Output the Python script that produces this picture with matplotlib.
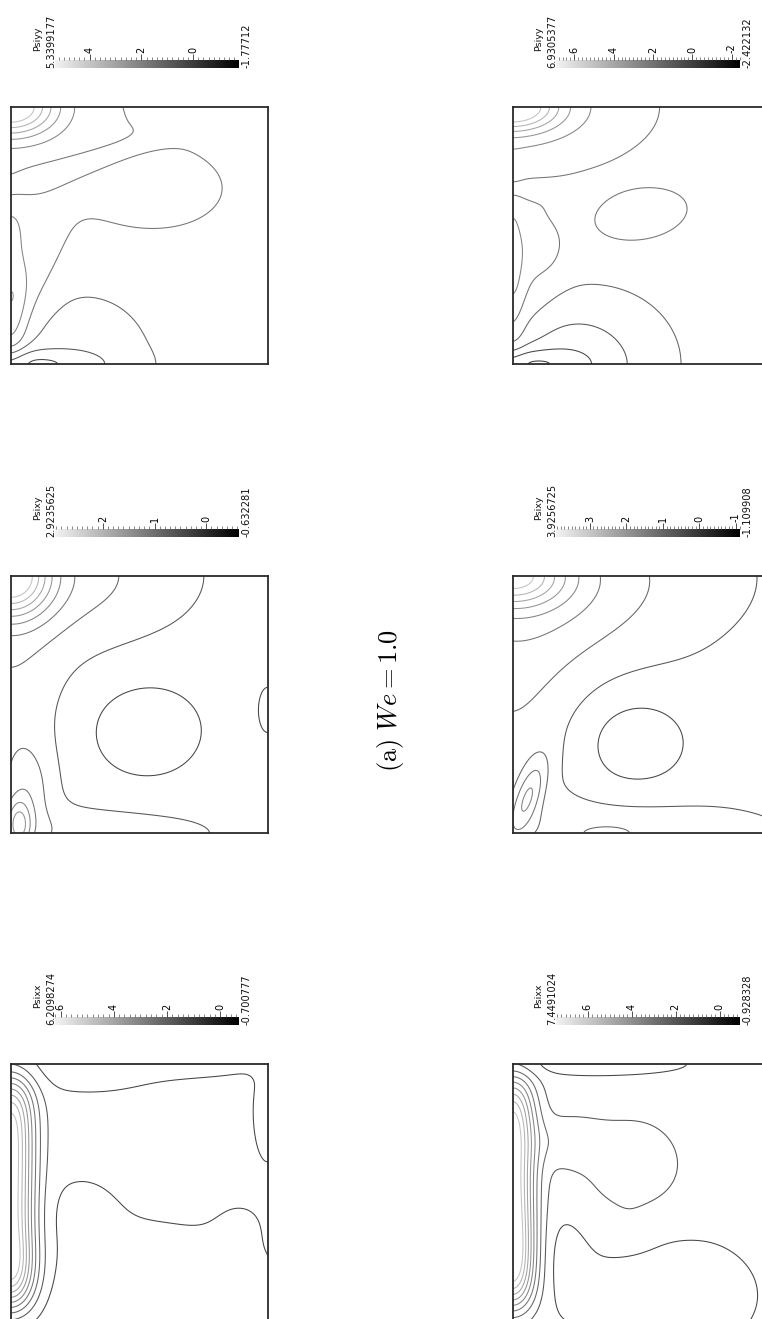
import numpy as np
import matplotlib
matplotlib.use("Agg")
import matplotlib.pyplot as plt
from matplotlib.colors import LinearSegmentedColormap, Normalize
from matplotlib.ticker import MultipleLocator

plt.rcParams["mathtext.fontset"] = "cm"

# ---------------------------------------------------------------------------
# Panel layout: rows = Psiyy, Psixy, Psixx ; columns = two runs
# ---------------------------------------------------------------------------
field_names = ["Psiyy", "Psiyy", "Psixy", "Psixy", "Psixx", "Psixx"]
field_max = [5.3399177, 6.9305377, 2.9235625, 3.9256725, 6.2098274, 7.4491024]
field_min = [-1.77712, -2.422132, -0.632281, -1.109908, -0.700777, -0.928328]
max_text = ["5.3399177", "6.9305377", "2.9235625", "3.9256725", "6.2098274", "7.4491024"]
min_text = ["-1.77712", "-2.422132", "-0.632281", "-1.109908", "-0.700777", "-0.928328"]
tick_step = [2, 2, 1, 1, 2, 2]
n_contours = 10

# Normalised field description (0 = min, 1 = max) on the unit cavity:
# u runs left -> right, w runs top -> bottom of each frame.
# Each term: (amplitude, u0, w0, width_u, width_w, angle_deg, power_u, power_w)
base_yy_1 = 0.41
terms_yy_1 = [
    (0.55, 0.00, 0.00, 0.17, 0.11, 0, 2, 2),
    (0.09, 0.00, 0.00, 0.50, 0.30, 0, 2, 2),
    (0.11, 0.55, 0.32, 0.28, 0.16, 0, 2, 2),
    (0.07, 0.00, 0.45, 0.15, 0.12, 0, 2, 2),
    (0.10, 0.05, 0.72, 0.30, 0.10, 117, 2, 2),
    (0.16, 0.00, 0.72, 0.06, 0.28, 0, 2, 2),
    (-0.10, 0.20, 0.25, 0.35, 0.04, -17, 2, 2),
    (-0.10, 0.28, 1.00, 0.30, 0.30, 0, 2, 2),
    (-0.20, 0.00, 1.00, 0.30, 0.06, 0, 2, 2),
]

base_yy_2 = 0.41
terms_yy_2 = [
    (0.50, 0.00, 0.00, 0.17, 0.09, 0, 2, 2),
    (0.10, 0.00, 0.00, 0.38, 0.17, 0, 2, 2),
    (0.08, 0.00, 0.00, 0.62, 0.33, 0, 2, 2),
    (-0.08, 0.00, 0.32, 0.15, 0.04, 0, 2, 2),
    (0.10, 0.50, 0.43, 0.19, 0.10, -12, 2, 2),
    (0.09, 0.00, 0.60, 0.14, 0.28, 0, 2, 2),
    (0.05, 0.13, 0.56, 0.08, 0.10, 0, 2, 2),
    (0.10, 0.00, 0.65, 0.045, 0.30, 0, 2, 2),
    (-0.10, 0.32, 1.00, 0.36, 0.32, 0, 2, 2),
    (-0.12, 0.20, 1.00, 0.25, 0.20, 0, 2, 2),
    (-0.20, 0.00, 1.00, 0.22, 0.06, 0, 2, 2),
]

base_xy_1 = 0.24
terms_xy_1 = [
    (0.62, 0.00, 0.00, 0.15, 0.15, 0, 2, 2),
    (0.09, 0.22, 0.00, 0.45, 0.22, 0, 2, 2),
    (0.09, 0.00, 0.50, 0.19, 0.60, 0, 2, 2),
    (0.09, 0.32, 1.00, 0.46, 0.10, 0, 2, 2),
    (-0.12, 0.53, 0.60, 0.25, 0.21, 0, 2, 2),
    (-0.12, 1.00, 0.52, 0.04, 0.10, 0, 2, 2),
    (0.10, 0.00, 0.00, 0.50, 0.33, 0, 2, 2),
    (0.30, 0.03, 0.97, 0.05, 0.10, 0, 2, 2),
    (0.12, 0.07, 0.84, 0.09, 0.18, 0, 2, 2),
]

base_xy_2 = 0.24
terms_xy_2 = [
    (0.45, 0.00, 0.00, 0.19, 0.11, 0, 2, 2),
    (0.10, 0.00, 0.00, 0.35, 0.22, 0, 2, 2),
    (0.10, 0.00, 0.10, 0.55, 0.40, 0, 2, 2),
    (0.09, 0.28, 0.00, 0.62, 0.30, 0, 2, 2),
    (0.09, 0.00, 0.55, 0.26, 0.50, 0, 2, 2),
    (0.11, 0.45, 1.00, 0.55, 0.12, 0, 2, 2),
    (-0.12, 0.47, 0.64, 0.24, 0.20, 0, 2, 2),
    (0.25, 0.06, 0.86, 0.05, 0.15, 20, 2, 2),
    (0.05, 0.37, 1.00, 0.08, 0.025, 0, 2, 2),
]

base_xx_1 = 0.22
terms_xx_1 = [
    (0.78, 0.00, 0.50, 0.09, 0.44, 0, 2, 6),
    (0.12, 0.00, 0.80, 0.12, 0.14, 0, 2, 2),
    (-0.10, 0.30, 0.00, 0.30, 0.11, 0, 2, 2),
    (-0.09, 0.72, 0.00, 0.28, 0.05, 0, 2, 2),
    (-0.09, 1.00, 0.18, 0.06, 0.20, 0, 2, 2),
    (-0.10, 0.45, 1.00, 0.70, 0.40, 0, 2, 2),
    (-0.04, 0.27, 0.56, 0.14, 0.14, 0, 2, 2),
    (-0.02, 0.90, 0.60, 0.12, 0.12, 0, 2, 2),
]

base_xx_2 = 0.22
terms_xx_2 = [
    (0.78, 0.00, 0.50, 0.085, 0.44, 0, 2, 6),
    (0.10, 0.00, 0.75, 0.10, 0.20, 0, 2, 2),
    (-0.10, 0.36, 0.00, 0.33, 0.05, 0, 2, 2),
    (0.10, 0.47, 0.40, 0.22, 0.22, 0, 2, 2),
    (0.10, 0.20, 0.30, 0.14, 0.10, 0, 2, 2),
    (-0.10, 0.60, 0.90, 0.36, 0.25, 0, 2, 2),
    (-0.06, 0.20, 0.75, 0.10, 0.20, 0, 2, 2),
    (0.04, 0.45, 0.66, 0.10, 0.08, 0, 2, 2),
]

panel_bases = [base_yy_1, base_yy_2, base_xy_1, base_xy_2, base_xx_1, base_xx_2]
panel_terms = [terms_yy_1, terms_yy_2, terms_xy_1, terms_xy_2, terms_xx_1, terms_xx_2]

# ---------------------------------------------------------------------------
W_PX, H_PX = 762, 1319
fig = plt.figure(figsize=(W_PX / 100, H_PX / 100), dpi=100)
fig.patch.set_facecolor("white")


def fx(x):
    return x / W_PX


def fy(y):
    return 1 - y / H_PX


bar_cmap = LinearSegmentedColormap.from_list("grey_lut", ["#000000", "#f3f3f3"])
line_cmap = LinearSegmentedColormap.from_list("grey_lines", ["#262626", "#d2d2d2"])

frame_left = [10.7, 512.6]
frame_top = [107, 576, 1064]
frame_size = 257
bar_left = [55, 556]
bar_len = 184
bar_h = 8

n = 401
uu, ww = np.meshgrid(np.linspace(0, 1, n), np.linspace(0, 1, n))


def evaluate(base, terms):
    s = np.full_like(uu, base)
    for amp, u0, w0, su, sw, ang, pu, pw in terms:
        t = np.deg2rad(ang)
        du, dw = uu - u0, ww - w0
        a = du * np.cos(t) + dw * np.sin(t)
        b = -du * np.sin(t) + dw * np.cos(t)
        s += amp * np.exp(-np.abs(a / su) ** pu - np.abs(b / sw) ** pw)
    return s


for idx in range(6):
    row, col = divmod(idx, 2)
    vmin, vmax = field_min[idx], field_max[idx]
    norm = Normalize(vmin, vmax)

    # contour frame
    left = frame_left[col]
    top = frame_top[row]
    ax = fig.add_axes([fx(left), fy(top + frame_size),
                       frame_size / W_PX, frame_size / H_PX])
    s = evaluate(panel_bases[idx], panel_terms[idx])
    values = vmin + s * (vmax - vmin)
    levels = np.linspace(vmin, vmax, n_contours + 2)[1:-1]
    ax.contour(uu, ww, values, levels=levels, cmap=line_cmap, norm=norm,
               linewidths=0.75)
    ax.set_xlim(0, 1)
    ax.set_ylim(1, 0)
    ax.set_xticks([])
    ax.set_yticks([])
    for sp in ax.spines.values():
        sp.set_color("#2a2a2a")
        sp.set_linewidth(1.3)

    # colour bar (max on the left, min on the right)
    bl = bar_left[col]
    bar_bottom = top - 39
    cax = fig.add_axes([fx(bl), fy(bar_bottom), bar_len / W_PX, bar_h / H_PX])
    grad = np.linspace(vmax, vmin, 512)[None, :]
    cax.imshow(grad, extent=[vmax, vmin, 0, 1], aspect="auto", cmap=bar_cmap,
               norm=norm, interpolation="bilinear")
    cax.set_xlim(vmax, vmin)
    cax.set_ylim(0, 1)
    cax.set_yticks([])
    step = tick_step[idx]
    cax.xaxis.set_major_locator(MultipleLocator(step))
    cax.xaxis.set_minor_locator(MultipleLocator(step / 10))
    cax.xaxis.set_major_formatter(plt.FuncFormatter(lambda v, p: f"{v:g}"))
    cax.xaxis.set_ticks_position("top")
    cax.tick_params(axis="x", which="major", direction="out", length=4,
                    width=0.6, color="#333333", pad=1, labelsize=7,
                    labelrotation=90)
    cax.tick_params(axis="x", which="minor", direction="out", length=2.2,
                    width=0.5, color="#555555")
    for sp in cax.spines.values():
        sp.set_visible(False)

    fig.text(fx(bl - 4), fy(bar_bottom), max_text[idx], rotation=90,
             rotation_mode="anchor", ha="left", va="center", fontsize=7.1,
             color="#111111")
    fig.text(fx(bl - 17), fy(bar_bottom - 29), field_names[idx], rotation=90,
             rotation_mode="anchor", ha="center", va="center", fontsize=6.8,
             color="#111111")
    fig.text(fx(bl + bar_len + 8), fy(bar_bottom), min_text[idx], rotation=90,
             rotation_mode="anchor", ha="left", va="center", fontsize=7.1,
             color="#111111")

fig.text(fx(391), fy(701), r"$\mathrm{(a)}\ We = 1.0$", rotation=90,
         ha="center", va="center", fontsize=19)

fig.savefig("out.png", dpi=100, facecolor="white")
